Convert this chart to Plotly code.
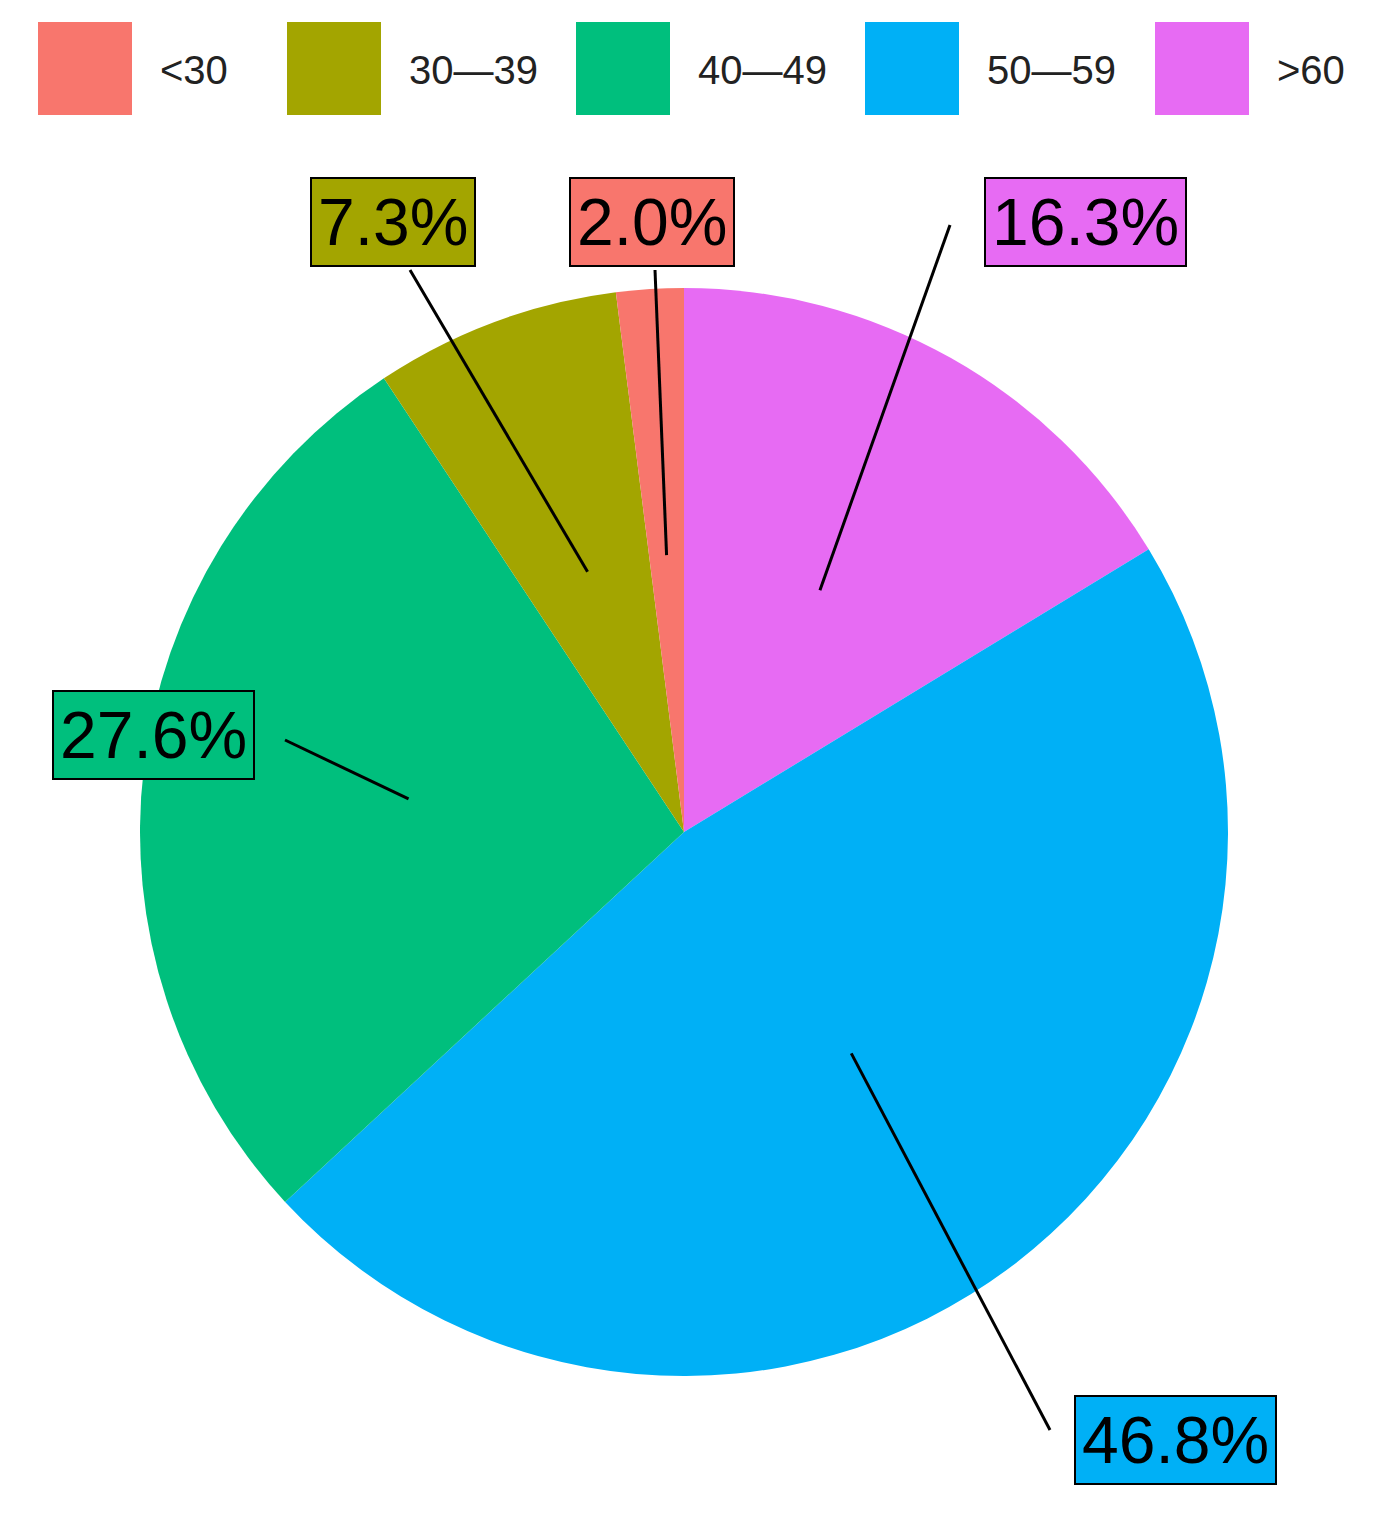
import math
import plotly.graph_objects as go

labels = ["<30", "30\u201439", "40\u201449", "50\u201459", ">60"]
values = [2.0, 7.3, 27.6, 46.8, 16.3]
colors = ["#F8766D", "#A3A500", "#00BF7D", "#00B0F6", "#E76BF3"]
label_pos = [(652, 222), (393, 222), (153, 735), (1175, 1440), (1085, 222)]
line_end = [(655, 270), (410, 270), (285, 740), (1050, 1430), (950, 225)]

W, H = 1381, 1515
cx, cy, R = 684, 832, 544
OFF = 8  # page body margin


def px(x, y):
    return (x - OFF) / W, 1 - (y - OFF) / H


# ggplot draws counterclockwise from 12 o'clock; plotly: reversed order, clockwise
fig = go.Figure(go.Pie(
    labels=labels[::-1], values=values[::-1], sort=False, direction="clockwise",
    rotation=0, marker=dict(colors=colors[::-1], line=dict(width=0)),
    textinfo="none", hoverinfo="label+percent", showlegend=False,
    domain=dict(x=[(cx - R - OFF) / W, (cx + R - OFF) / W],
                y=[1 - (cy + R - OFF) / H, 1 - (cy - R - OFF) / H]),
))

shapes, annotations = [], []
total = sum(values)
cum = 0
for i, v in enumerate(values):
    mid = (cum + v / 2) / total
    cum += v
    th = 2 * math.pi * mid
    sx = cx - 0.51 * R * math.sin(th)
    sy = cy - 0.51 * R * math.cos(th)
    x0, y0 = px(sx, sy)
    x1, y1 = px(*line_end[i])
    shapes.append(dict(type="line", xref="paper", yref="paper", x0=x0, y0=y0, x1=x1, y1=y1,
                       line=dict(color="black", width=3)))
    lx, ly = px(*label_pos[i])
    annotations.append(dict(x=lx, y=ly, xref="paper", yref="paper", showarrow=False,
                            xanchor="center", yanchor="middle",
                            text=f"{v:.1f}%", font=dict(size=66, color="black"),
                            bgcolor=colors[i], bordercolor="black", borderwidth=2, borderpad=6))

# legend drawn manually
leg_x = [38, 287, 576, 865, 1155]
for i, lab in enumerate(labels):
    x0, y0 = px(leg_x[i], 22)
    x1, y1 = px(leg_x[i] + 94, 115)
    shapes.append(dict(type="rect", xref="paper", yref="paper", x0=x0, y0=y1, x1=x1, y1=y0,
                       fillcolor=colors[i], line=dict(width=0)))
    tx, ty = px(leg_x[i] + 120, 70)
    annotations.append(dict(x=tx, y=ty, xref="paper", yref="paper", showarrow=False,
                            xanchor="left", yanchor="middle", text=lab,
                            font=dict(size=40, color="#222")))

fig.update_layout(
    width=W, height=H, margin=dict(l=0, r=0, t=0, b=0),
    paper_bgcolor="white", font=dict(family="Liberation Sans, Arial"),
    shapes=shapes, annotations=annotations,
)
fig.write_html("out.html")
